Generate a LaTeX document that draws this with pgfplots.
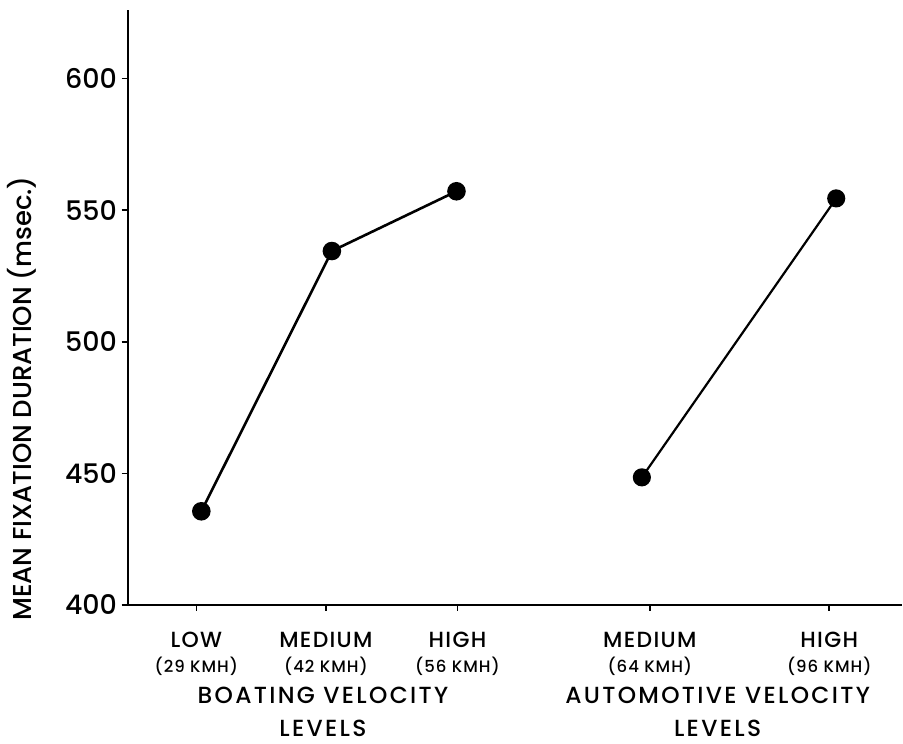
\documentclass[border=0pt]{standalone}
\usepackage{fontspec}
\setmainfont{Poppins}
\newfontfamily\medfont{Poppins Medium}
\newfontfamily\widefont[LetterSpace=10]{Poppins Medium}
\newfontfamily\tickfont[LetterSpace=6]{Poppins Medium}
\usepackage{pgfplots}
\pgfplotsset{compat=1.18}

\begin{document}
\begin{tikzpicture}
\begin{axis}[
    name=ax,
    scale only axis,
    width=388.5pt, height=298.5pt,
    xmin=0, xmax=777,
    ymin=400, ymax=626.1,
    axis lines=left,
    axis line style={-, line width=1pt},
    /pgf/number format/assume math mode=true,
    ytick={400,450,500,550,600},
    yticklabel style={font=\medfont\fontsize{13.5}{14}\selectfont, xshift=1.2pt},
    xtick={69,199,331,524,704},
    xticklabels={
        LOW\\{\fontsize{8.3}{9}\selectfont (29 KMH)},
        MEDIUM\\{\fontsize{8.3}{9}\selectfont (42 KMH)},
        HIGH\\{\fontsize{8.3}{9}\selectfont (56 KMH)},
        MEDIUM\\{\fontsize{8.3}{9}\selectfont (64 KMH)},
        HIGH\\{\fontsize{8.3}{9}\selectfont (96 KMH)}},
    xticklabel style={align=center, font=\tickfont\fontsize{11}{12.5}\selectfont, yshift=-7pt},
    tick align=outside,
    major tick length=3pt,
    tick style={line width=0.8pt, black},
    clip=false,
]
\addplot[black, line width=1.3pt, mark=*, mark size=4pt]
    coordinates {(74,435.6)(205,534.5)(330,557.2)};
\addplot[black, line width=1.1pt, mark=*, mark size=4pt]
    coordinates {(516,448.5)(711,554.5)};
\node[align=center, font=\widefont\fontsize{11.7}{16.5}\selectfont] at ([yshift=-53.5pt]axis cs:196,400) {BOATING VELOCITY\\LEVELS};
\node[align=center, font=\widefont\fontsize{11.7}{16.5}\selectfont] at ([yshift=-53.5pt]axis cs:592,400) {AUTOMOTIVE VELOCITY\\LEVELS};
\node[rotate=90, font=\medfont\fontsize{13}{14}\selectfont] at ([xshift=-53pt]rel axis cs:0,0.347) {MEAN FIXATION DURATION (msec.)};
\end{axis}
\path (ax.south west) ++(-64pt,-68pt) (ax.north east) ++(0pt,5pt);
\end{tikzpicture}
\end{document}
